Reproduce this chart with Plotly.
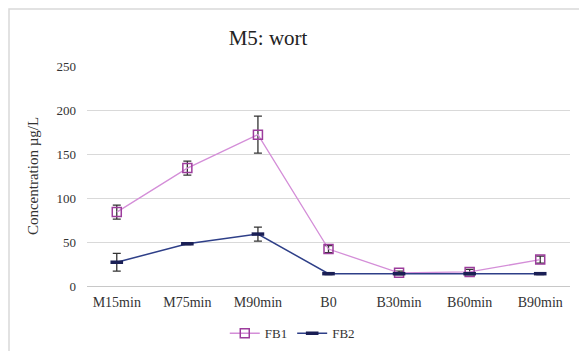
import plotly.graph_objects as go

categories = ["M15min", "M75min", "M90min", "B0", "B30min", "B60min", "B90min"]
fb1 = [84, 134, 172, 42, 15, 16, 30]
fb1_err = [8, 8, 21, 4, 2, 3, 4]
fb2 = [27, 48, 59, 14, 14, 14, 14]
fb2_err = [10, 1, 8, 1, 1, 1, 1]
y_ticks = [0, 50, 100, 150, 200, 250]

serif = "Liberation Serif"

fig = go.Figure()
fig.add_trace(go.Scatter(
    x=categories, y=fb1, name="FB1", mode="lines+markers",
    line=dict(color="#d48ed8", width=1.3),
    marker=dict(symbol="square-open", size=9, color="#9c3c9c", line=dict(width=1.5)),
    error_y=dict(type="data", array=fb1_err, color="#333333", thickness=1.3, width=4),
))
fig.add_trace(go.Scatter(
    x=categories, y=fb2, name="FB2", mode="lines+markers",
    line=dict(color="#2e3f88", width=1.5),
    marker=dict(symbol="line-ew", size=9, color="#1a1f55", line=dict(width=3.5, color="#1a1f55")),
    error_y=dict(type="data", array=fb2_err, color="#333333", thickness=1.3, width=4),
))

fig.update_layout(
    width=579, height=351,
    margin=dict(l=87, r=9, t=66, b=65, autoexpand=False),
    paper_bgcolor="white", plot_bgcolor="white",
    font=dict(family=serif, color="#333333", size=12),
    title=dict(text="M5: wort", x=0.463, xanchor="center", y=0.893, yanchor="middle",
               xref="container", yref="container",
               font=dict(family=serif, size=21, color="#222222")),
    showlegend=True,
    legend=dict(orientation="h", x=0.425, xanchor="center", y=-0.215, yanchor="middle",
                font=dict(family=serif, size=13, color="#333333"), itemwidth=30),
    shapes=[dict(type="rect", xref="paper", yref="paper", x0=-0.1615, x1=1.03,
                 y0=-0.34, y1=1.259, line=dict(color="#d9d9d9", width=1.5), layer="below")],
)
fig.update_xaxes(
    type="category", showgrid=False, showline=False, zeroline=False,
    tickfont=dict(family=serif, size=14, color="#333333"), ticks="", ticklabelstandoff=6,
)
fig.update_yaxes(
    range=[0, 250], tickvals=y_ticks, showgrid=True, gridcolor="#d9d9d9", gridwidth=1.3,
    zeroline=True, zerolinecolor="#c8c8c8", zerolinewidth=1.3, showline=False,
    tickfont=dict(family=serif, size=13, color="#333333"), ticks="", ticklabelstandoff=10,
    title=dict(text="Concentration µg/L", font=dict(family=serif, size=15, color="#333333"), standoff=14),
)

fig.write_html("out.html")
